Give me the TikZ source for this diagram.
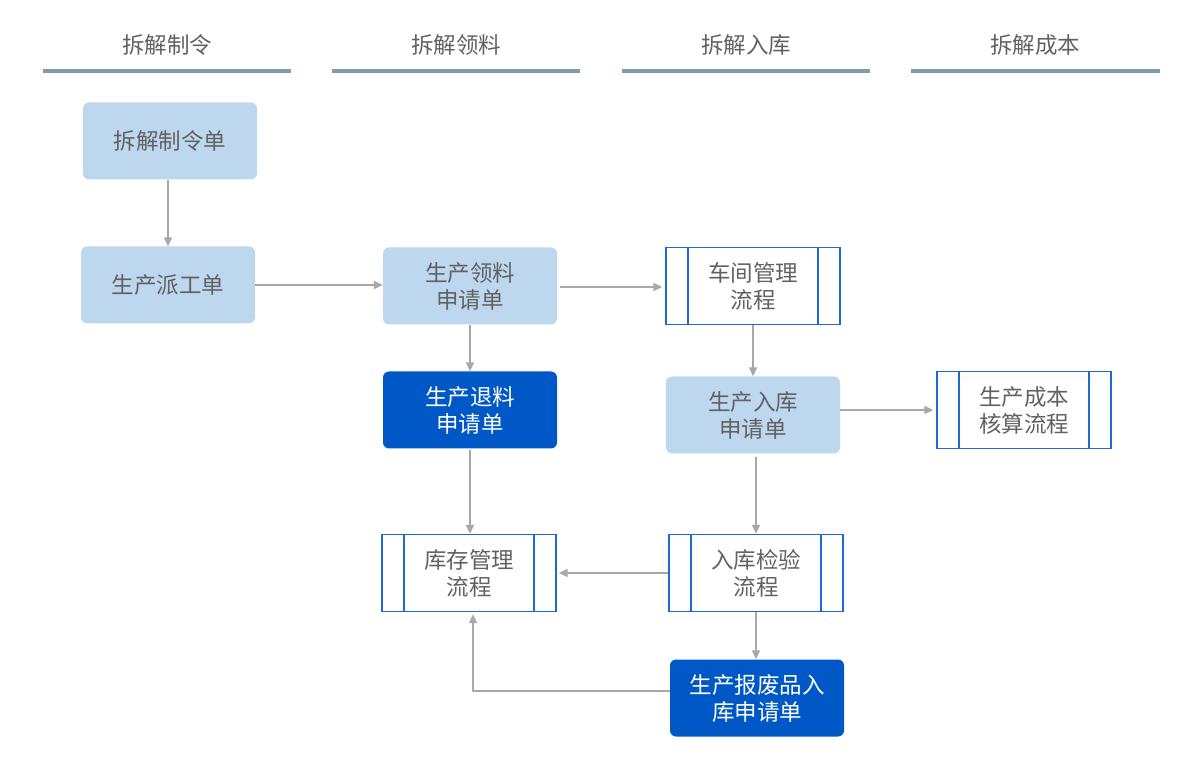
\documentclass[tikz,border=0pt]{standalone}
\usepackage{fontspec}
\setmainfont{Noto Sans CJK SC}
\usetikzlibrary{arrows.meta}
\definecolor{lightbox}{HTML}{BDD7EE}
\definecolor{darkbox}{HTML}{0057C6}
\definecolor{procline}{HTML}{2068D6}
\definecolor{headline}{HTML}{7D9CAF}
\definecolor{txtgray}{HTML}{616161}
\definecolor{arrgray}{HTML}{A8A8A8}
\tikzset{
    lane/.style={text=txtgray, font=\fontsize{22.5}{26}\selectfont},
    lanerule/.style={draw=headline, line width=4pt},
    base/.style={minimum width=174pt, minimum height=77pt, inner sep=0pt,
        align=center, font=\fontsize{22.5}{27}\selectfont},
    doc/.style={base, fill=lightbox, text=txtgray, rounded corners=6pt},
    docdark/.style={base, fill=darkbox, text=white, rounded corners=6pt},
    proc/.style={base, draw=procline, line width=1.3pt, text=txtgray,
        path picture={
            \draw[procline, line width=1.3pt]
                ([xshift=22pt]path picture bounding box.north west) --
                ([xshift=22pt]path picture bounding box.south west);
            \draw[procline, line width=1.3pt]
                ([xshift=-22pt]path picture bounding box.north east) --
                ([xshift=-22pt]path picture bounding box.south east);
        }},
    flow/.style={draw=arrgray, line width=1.6pt, -{Triangle[length=9pt, width=8pt]}},
}
\begin{document}
\begin{tikzpicture}[x=1pt, y=-1pt]
    \useasboundingbox (0,0) rectangle (1200,775);
    % lane headers
    \node[lane] (h1) at (167,45) {拆解制令};
    \node[lane] (h2) at (456,45) {拆解领料};
    \node[lane] (h3) at (746,45) {拆解入库};
    \node[lane] (h4) at (1035,45) {拆解成本};
    \draw[lanerule] (43,71) -- (291,71);
    \draw[lanerule] (332,71) -- (580,71);
    \draw[lanerule] (622,71) -- (870,71);
    \draw[lanerule] (911,71) -- (1160,71);
    % boxes
    \node[doc] (zld) at (170,141) {拆解制令单};
    \node[doc] (pgd) at (168,285) {生产派工单};
    \node[doc] (lld) at (470,286) {生产领料\\申请单};
    \node[proc] (cjgl) at (753,286) {车间管理\\流程};
    \node[docdark] (tld) at (470,410) {生产退料\\申请单};
    \node[doc] (rkd) at (753,415) {生产入库\\申请单};
    \node[proc] (cbhs) at (1024,410) {生产成本\\核算流程};
    \node[proc] (kcgl) at (469,573) {库存管理\\流程};
    \node[proc] (rkjy) at (756,573) {入库检验\\流程};
    \node[docdark] (bfd) at (757,698) {生产报废品入\\库申请单};
    % connectors
    \draw[flow] (pgd.north |- zld.south) -- (pgd.north);
    \draw[flow] (pgd) -- (lld.west |- pgd);
    \draw[flow] (lld.east) ++(3,1) -- ([xshift=-3pt]cjgl.west |- 0,287);
    \draw[flow] (lld) -- (tld);
    \draw[flow] (cjgl) -- (rkd);
    \draw[flow] (rkd.east |- 0,410) -- ([xshift=-3pt]cbhs.west);
    \draw[flow] (tld.south) ++(0,1) -- (kcgl.north -| tld.south);
    \draw[flow] ([yshift=-3pt]rkd.south -| rkjy.north) -- (rkjy);
    \draw[flow] (rkjy) -- ([xshift=2pt]kcgl.east);
    \draw[flow] (rkjy.south) -- (bfd.north -| rkjy.south);
    \draw[flow] (bfd.west |- 0,691) -| ([xshift=4pt, yshift=-2pt]kcgl.south);
\end{tikzpicture}
\end{document}
